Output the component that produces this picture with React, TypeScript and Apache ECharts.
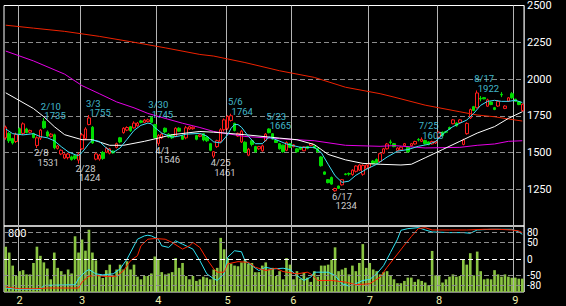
import React, { useEffect, useRef } from 'react';
import * as echarts from 'echarts';

// Trading days shown (2022, Tokyo market calendar), by month
const janDays = [26, 27, 28, 31];
const febDays = [1, 2, 3, 4, 7, 8, 9, 10, 14, 15, 16, 17, 18, 21, 22, 24, 25, 28];
const marDays = [1, 2, 3, 4, 7, 8, 9, 10, 11, 14, 15, 16, 17, 18, 22, 23, 24, 25, 28, 29, 30, 31];
const aprDays = [1, 4, 5, 6, 7, 8, 11, 12, 13, 14, 15, 18, 19, 20, 21, 22, 25, 26, 27, 28];
const mayDays = [2, 6, 9, 10, 11, 12, 13, 16, 17, 18, 19, 20, 23, 24, 25, 26, 27, 30, 31];
const junDays = [1, 2, 3, 6, 7, 8, 9, 10, 13, 14, 15, 16, 17, 20, 21, 22, 23, 24, 27, 28, 29, 30];
const julDays = [1, 4, 5, 6, 7, 8, 11, 12, 13, 14, 15, 19, 20, 21, 22, 25, 26, 27, 28, 29];
const augDays = [1, 2, 3, 4, 5, 8, 9, 10, 12, 15, 16, 17, 18, 19, 22, 23, 24, 25, 26, 29, 30, 31];
const sepDays = [1, 2, 5];
const monthDays: [number, number[]][] = [
  [1, janDays], [2, febDays], [3, marDays], [4, aprDays], [5, mayDays],
  [6, junDays], [7, julDays], [8, augDays], [9, sepDays],
];

const opens = [
  1600, 1630, 1595, 1575, 1662, 1630, 1660, 1638, 1628, 1548,
  1598, 1712, 1640, 1610, 1620, 1528, 1490, 1462, 1465, 1470,
  1478, 1448, 1525, 1595, 1690, 1672, 1455, 1455, 1500, 1502,
  1495, 1510, 1535, 1600, 1635, 1652, 1675, 1668, 1682, 1715,
  1705, 1710, 1738, 1690, 1562, 1600, 1665, 1625, 1620, 1610,
  1665, 1612, 1600, 1660, 1662, 1615, 1610, 1628, 1605, 1560,
  1475, 1540, 1575, 1655, 1665, 1718, 1698, 1612, 1572, 1570,
  1482, 1580, 1540, 1525, 1512, 1580, 1660, 1628, 1582, 1560,
  1550, 1515, 1560, 1540, 1525, 1535, 1512, 1540, 1548, 1545,
  1528, 1470, 1368, 1315, 1330, 1240, 1272, 1280, 1354, 1357,
  1350, 1372, 1380, 1352, 1392, 1398, 1442, 1452, 1438, 1496,
  1525, 1572, 1560, 1514, 1518, 1546, 1536, 1546, 1558, 1588,
  1576, 1582, 1572, 1558, 1565, 1605, 1638, 1642, 1670, 1696,
  1700, 1704, 1555, 1628, 1735, 1812, 1805, 1868, 1873, 1815,
  1843, 1805, 1816, 1896, 1800, 1850, 1900, 1862, 1845, 1785,
];
const closes = [
  1672, 1580, 1565, 1622, 1628, 1695, 1636, 1650, 1602, 1600,
  1652, 1668, 1612, 1625, 1532, 1545, 1515, 1488, 1490, 1452,
  1460, 1490, 1620, 1660, 1735, 1565, 1490, 1482, 1460, 1528,
  1525, 1498, 1560, 1572, 1665, 1670, 1648, 1700, 1700, 1705,
  1720, 1722, 1705, 1600, 1615, 1625, 1640, 1605, 1600, 1665,
  1645, 1590, 1668, 1675, 1672, 1590, 1620, 1585, 1580, 1515,
  1505, 1580, 1655, 1722, 1745, 1750, 1650, 1630, 1645, 1505,
  1522, 1555, 1505, 1540, 1545, 1625, 1635, 1592, 1568, 1525,
  1505, 1568, 1535, 1552, 1505, 1522, 1538, 1528, 1560, 1530,
  1505, 1410, 1352, 1295, 1285, 1255, 1256, 1315, 1351, 1353,
  1380, 1408, 1415, 1412, 1415, 1425, 1425, 1430, 1492, 1525,
  1558, 1568, 1540, 1530, 1536, 1560, 1505, 1560, 1575, 1585,
  1590, 1560, 1555, 1575, 1575, 1638, 1615, 1638, 1660, 1722,
  1682, 1722, 1585, 1698, 1792, 1786, 1905, 1864, 1865, 1858,
  1826, 1793, 1848, 1892, 1816, 1872, 1872, 1848, 1826, 1828,
];
const lows = [
  1587, 1565, 1554, 1565, 1618, 1620, 1630, 1630, 1596, 1531,
  1585, 1660, 1605, 1602, 1522, 1520, 1482, 1455, 1453, 1445,
  1450, 1424, 1518, 1588, 1685, 1558, 1447, 1444, 1450, 1496,
  1487, 1492, 1528, 1563, 1628, 1645, 1640, 1662, 1675, 1698,
  1700, 1705, 1700, 1594, 1546, 1592, 1632, 1598, 1592, 1604,
  1640, 1585, 1590, 1655, 1655, 1583, 1604, 1576, 1572, 1509,
  1461, 1531, 1565, 1643, 1654, 1710, 1643, 1606, 1565, 1498,
  1475, 1542, 1498, 1518, 1505, 1576, 1630, 1587, 1565, 1520,
  1498, 1509, 1530, 1535, 1498, 1518, 1509, 1522, 1542, 1525,
  1498, 1404, 1348, 1290, 1281, 1234, 1252, 1275, 1345, 1342,
  1342, 1364, 1375, 1342, 1386, 1393, 1420, 1424, 1431, 1491,
  1520, 1554, 1536, 1509, 1513, 1542, 1498, 1542, 1554, 1576,
  1571, 1554, 1549, 1554, 1558, 1598, 1609, 1632, 1654, 1692,
  1676, 1699, 1549, 1621, 1728, 1781, 1799, 1848, 1862, 1810,
  1822, 1788, 1810, 1877, 1795, 1844, 1866, 1844, 1822, 1777,
];
const highs = [
  1683, 1640, 1600, 1635, 1670, 1705, 1668, 1656, 1634, 1610,
  1660, 1735, 1650, 1632, 1628, 1552, 1522, 1495, 1498, 1478,
  1487, 1500, 1632, 1672, 1755, 1680, 1500, 1490, 1510, 1538,
  1532, 1514, 1567, 1606, 1672, 1678, 1680, 1712, 1708, 1722,
  1728, 1730, 1745, 1695, 1625, 1635, 1670, 1632, 1625, 1672,
  1672, 1620, 1681, 1680, 1678, 1620, 1625, 1632, 1612, 1565,
  1510, 1587, 1665, 1732, 1754, 1764, 1703, 1636, 1654, 1576,
  1531, 1587, 1545, 1545, 1554, 1632, 1665, 1632, 1587, 1565,
  1554, 1576, 1565, 1558, 1531, 1540, 1542, 1545, 1565, 1550,
  1531, 1476, 1371, 1319, 1337, 1260, 1275, 1319, 1360, 1364,
  1386, 1413, 1420, 1420, 1420, 1431, 1449, 1460, 1498, 1531,
  1565, 1587, 1565, 1536, 1542, 1565, 1542, 1565, 1580, 1598,
  1603, 1587, 1576, 1580, 1580, 1643, 1643, 1647, 1676, 1728,
  1705, 1728, 1594, 1705, 1799, 1817, 1922, 1884, 1877, 1866,
  1848, 1810, 1855, 1911, 1821, 1877, 1911, 1866, 1848, 1833,
];
const volumes = [
  618, 538, 360, 218, 284, 298, 240, 240, 396, 618,
  493, 404, 320, 173, 538, 329, 284, 240, 307, 253,
  760, 538, 716, 564, 849, 538, 431, 240, 191, 298,
  373, 227, 307, 373, 307, 418, 307, 373, 209, 173,
  218, 218, 253, 484, 449, 271, 240, 253, 271, 462,
  329, 396, 218, 173, 218, 151, 173, 209, 196, 173,
  307, 329, 738, 582, 462, 387, 360, 351, 404, 440,
  387, 396, 271, 271, 360, 404, 307, 329, 218, 284,
  173, 462, 373, 173, 284, 182, 262, 196, 138, 284,
  209, 360, 360, 373, 440, 609, 284, 307, 329, 240,
  360, 284, 396, 653, 329, 396, 307, 284, 240, 271,
  284, 218, 173, 120, 120, 151, 196, 196, 138, 173,
  151, 129, 93, 560, 227, 227, 129, 173, 209, 240,
  209, 218, 440, 373, 529, 227, 551, 284, 173, 182,
  173, 298, 240, 209, 240, 209, 196, 196, 182, 182,
];

// Moving averages: [day index, price]
const maShort = [
  [0, 1660], [2, 1628], [5, 1620], [8, 1628], [10, 1608], [12, 1600], [14, 1580], [16, 1540],
  [18, 1505], [20, 1485], [21, 1480], [22, 1500], [24, 1560], [25, 1585], [27, 1575], [29, 1531],
  [31, 1500], [33, 1531], [35, 1590], [37, 1650], [39, 1685], [41, 1700], [42, 1695], [43, 1670],
  [45, 1632], [48, 1605], [50, 1612], [52, 1625], [56, 1630], [58, 1612], [60, 1572], [62, 1565],
  [64, 1620], [65, 1665], [66, 1690], [67, 1690], [68, 1672], [70, 1610], [72, 1560], [74, 1560],
  [76, 1605], [78, 1587], [81, 1558], [85, 1535], [89, 1535], [91, 1500], [93, 1420], [95, 1342],
  [97, 1297], [99, 1305], [101, 1345], [104, 1386], [107, 1420], [110, 1469], [113, 1509],
  [116, 1520], [119, 1542], [122, 1556], [124, 1575], [125, 1598], [127, 1643], [129, 1676],
  [131, 1699], [133, 1721], [135, 1766], [137, 1821], [139, 1848], [141, 1855], [143, 1848],
  [145, 1848], [147, 1855], [149, 1840],
];
const maMid = [
  [0, 1906], [3, 1866], [8, 1799], [11, 1743], [14, 1676], [17, 1621], [22, 1587], [25, 1587],
  [30, 1549], [34, 1549], [40, 1576], [44, 1598], [48, 1621], [56, 1643], [60, 1638], [69, 1621],
  [79, 1598], [84, 1587], [89, 1554], [93, 1487], [98, 1450], [103, 1426], [108, 1420], [114, 1415],
  [117, 1420], [121, 1464], [126, 1520], [131, 1576], [136, 1632], [141, 1676], [145, 1732],
  [149, 1777],
];
const maLong = [
  [0, 2190], [8, 2123], [17, 2033], [22, 1955], [27, 1900], [32, 1844], [37, 1804], [41, 1766],
  [46, 1732], [51, 1699], [56, 1670], [60, 1643], [69, 1609], [79, 1594], [89, 1580], [98, 1549],
  [108, 1542], [112, 1547], [121, 1531], [131, 1535], [136, 1549], [141, 1558], [145, 1576],
  [149, 1580],
];
const maVeryLong = [
  [0, 2366], [8, 2346], [17, 2324], [27, 2290], [37, 2250], [46, 2212], [56, 2167], [60, 2156],
  [69, 2112], [79, 2056], [89, 2011], [98, 1944], [108, 1900], [112, 1877], [121, 1822],
  [131, 1777], [136, 1755], [141, 1743], [145, 1728], [149, 1714],
];

// Oscillators in the lower panel: [day index, value]
const oscCyan = [
  [0, -88], [4, -92], [10, -92], [11, -80], [20, -78], [21, -60], [23, -38], [24, -32], [26, -45],
  [28, -48], [31, -45], [33, -30], [35, 0], [37, 40], [38, 60], [40, 70], [41, 72], [42, 70],
  [44, 60], [45, 40], [47, 35], [49, 55], [51, 45], [52, 40], [54, 30], [56, -5], [58, -45],
  [60, -60], [61, -65], [63, -45], [64, 5], [66, 25], [68, 22], [69, -5], [71, -20], [73, -35],
  [75, -25], [77, -30], [80, -28], [82, -32], [84, -50], [86, -65], [88, -55], [89, -40],
  [93, -40], [95, -50], [97, -75], [99, -82], [101, -75], [103, -65], [105, -62], [107, -45],
  [109, -20], [111, 20], [113, 60], [114, 87], [116, 92], [119, 95], [121, 88], [123, 82],
  [128, 80], [132, 80], [134, 78], [136, 88], [140, 90], [143, 90], [146, 90], [148, 82], [149, 75],
];
const oscRed = [
  [0, -85], [4, -90], [9, -90], [12, -88], [21, -88], [22, -70], [24, -52], [26, -50], [29, -53],
  [32, -52], [34, -35], [36, -5], [38, 10], [39, 40], [41, 60], [43, 62], [46, 60], [48, 50],
  [51, 30], [53, 40], [54, 50], [56, 35], [58, 0], [60, -30], [61, -40], [63, -40], [64, -15],
  [67, -8], [70, -10], [72, -25], [75, -35], [78, -28], [80, -38], [84, -45], [87, -40],
  [88, -45], [90, -65], [94, -65], [98, -70], [101, -78], [105, -75], [108, -55], [110, -25],
  [113, 15], [115, 42], [117, 68], [119, 92], [121, 95], [123, 88], [128, 88], [133, 88],
  [138, 90], [142, 90], [146, 88], [148, 85], [149, 80],
];
const oscLevels = [80, 50, 0, -50, -80];

// Annotated highs / lows
const markIdx = [9, 11, 21, 24, 42, 44, 60, 65, 76, 95, 120, 136];
const markPrice = [1531, 1735, 1424, 1755, 1745, 1546, 1461, 1764, 1665, 1234, 1603, 1922];
const markHigh = [false, true, false, true, true, false, false, true, true, false, true, true];

const dates: string[] = [];
const monthStarts = new Set<number>();
monthDays.forEach(([m, ds]) => {
  if (m !== 1) monthStarts.add(dates.length);
  ds.forEach((d) => dates.push(`${m}/${d}`));
});

const isStart = (i: number) => monthStarts.has(i);
const FONT = 'Roboto';

function buildOption() {
  const candleData = dates.map((_, i) => [opens[i], closes[i], lows[i], highs[i]]);
  const annData = markIdx.map((idx, k) => ({
    value: [idx, markPrice[k]],
    label: {
      show: true,
      position: markHigh[k] ? [-2.5, -16] : [-2.5, 0.5],
      color: markHigh[k] ? '#55e4ff' : '#ffffff',
      formatter: `{d|${dates[idx]}}\n{p|${markPrice[k]}}`,
    },
  }));
  const vSplit = {
    show: true,
    interval: (i: number) => isStart(i),
    lineStyle: { color: '#b4b4b4', width: 1, type: 'solid' },
  };
  const maLine = (data: number[][], color: string) => ({
    type: 'line',
    xAxisIndex: 0,
    yAxisIndex: 0,
    data,
    symbol: 'none',
    silent: true,
    lineStyle: { color, width: 1 },
    z: 3,
  });
  return {
    animation: false,
    backgroundColor: '#000000',
    textStyle: { fontFamily: FONT },
    grid: [
      { left: 4, top: 2, width: 520, height: 224, show: true, borderColor: '#ffffff', borderWidth: 1, backgroundColor: 'transparent' },
      { left: 4, top: 226, width: 520, height: 67, show: true, borderColor: '#ffffff', borderWidth: 1, backgroundColor: 'transparent' },
    ],
    xAxis: [
      {
        type: 'category', gridIndex: 0, data: dates, boundaryGap: true,
        axisLine: { show: false }, axisTick: { show: false }, axisLabel: { show: false },
        splitLine: vSplit,
      },
      {
        type: 'category', gridIndex: 1, data: dates, boundaryGap: true,
        axisLine: { show: false }, axisTick: { show: false },
        axisLabel: {
          show: true, interval: (i: number) => isStart(i),
          formatter: (v: string) => v.split('/')[0],
          color: '#f2f2b0', fontSize: 11, margin: 3, fontFamily: FONT,
        },
        splitLine: vSplit,
      },
    ],
    yAxis: [
      {
        type: 'value', gridIndex: 0, position: 'right', min: 1000, max: 2500, interval: 250,
        axisLine: { show: false }, axisTick: { show: false },
        axisLabel: {
          color: '#ffffff', fontSize: 11, margin: 3, padding: [5, 0, 0, 0], fontFamily: FONT,
          formatter: (v: number) => (v === 1000 ? '' : String(v)),
        },
        splitLine: { show: true, showMinLine: false, showMaxLine: false, lineStyle: { color: '#8c8c8c', type: [5, 3], width: 1 } },
      },
      {
        type: 'value', gridIndex: 1, position: 'left', min: 0, max: 900, interval: 100,
        axisLine: { show: false }, axisTick: { show: false },
        axisLabel: {
          inside: true, color: '#ffffff', fontSize: 11, margin: 4, fontFamily: FONT,
          formatter: (v: number) => (v === 800 ? '800' : ''),
        },
        splitLine: { show: false },
      },
      {
        type: 'value', gridIndex: 1, position: 'right', min: -100, max: 100, show: false,
        splitLine: { show: false },
      },
    ],
    series: [
      {
        type: 'bar', xAxisIndex: 1, yAxisIndex: 1, data: volumes, barWidth: '76%', silent: true,
        itemStyle: { color: '#8ac442' }, z: 1,
      },
      {
        type: 'line', xAxisIndex: 1, yAxisIndex: 2, data: oscCyan, symbol: 'none', silent: true,
        lineStyle: { color: '#30e4f4', width: 1 }, z: 3,
      },
      {
        type: 'line', xAxisIndex: 1, yAxisIndex: 2, data: oscRed, symbol: 'none', silent: true,
        lineStyle: { color: '#ff2200', width: 1 }, z: 3,
        markLine: {
          silent: true, symbol: ['none', 'none'], animation: false,
          label: {
            show: true, position: 'end', distance: 3, color: '#ffffff', fontSize: 10, lineHeight: 9,
            fontFamily: FONT,
            formatter: (p: any) => String(p.value),
          },
          data: oscLevels.map((v) => ({
            yAxis: v,
            lineStyle: { color: v === 0 ? '#ffffff' : '#8c8c8c', type: [5, 3], width: 1 },
          })),
        },
      },
      {
        type: 'candlestick', xAxisIndex: 0, yAxisIndex: 0, data: candleData, barWidth: 3, silent: true,
        itemStyle: { color: '#000000', color0: '#00dd00', borderColor: '#ff1c1c', borderColor0: '#00dd00', borderWidth: 1 },
        z: 2,
      },
      maLine(maVeryLong, '#ee2200'),
      maLine(maLong, '#e600e6'),
      maLine(maMid, '#ffffff'),
      maLine(maShort, '#40e0f8'),
      {
        type: 'scatter', xAxisIndex: 0, yAxisIndex: 0, data: annData, symbolSize: 1, silent: true,
        itemStyle: { color: 'rgba(0,0,0,0)' }, z: 5,
        label: {
          show: true, align: 'left', verticalAlign: 'top', fontFamily: FONT, fontSize: 9.5,
          rich: {
            d: { fontSize: 9.5, lineHeight: 9.5, fontFamily: FONT },
            p: { fontSize: 9.5, lineHeight: 9.5, fontFamily: FONT, padding: [0, 0, 0, 3.5] },
          },
        },
      },
    ],
  };
}

export default function App() {
  const ref = useRef<HTMLDivElement>(null);
  useEffect(() => {
    if (!ref.current) return;
    const chart = echarts.init(ref.current, null, { renderer: 'svg' });
    chart.setOption(buildOption() as any);
    return () => chart.dispose();
  }, []);
  return (
    <div
      ref={ref}
      style={{ position: 'fixed', left: 0, top: 0, width: 566, height: 306, background: '#000000' }}
    />
  );
}
